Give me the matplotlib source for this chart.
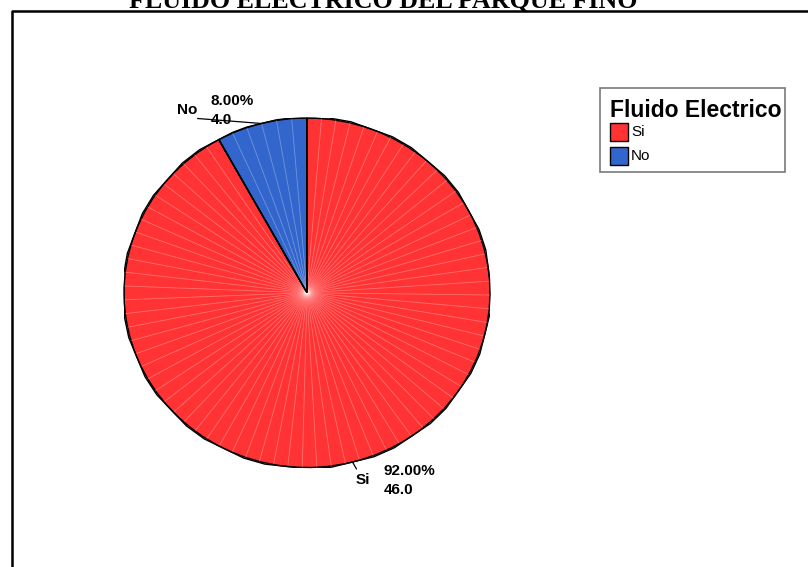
import matplotlib
matplotlib.use('Agg')
import matplotlib.pyplot as plt
from matplotlib.lines import Line2D
from matplotlib.patches import Rectangle
import numpy as np

# datos
categorias = ['Si', 'No']
frecuencias = [46.0, 4.0]
porcentajes = [92.00, 8.00]
colores = ['#FF3333', '#3366CC']
titulo = 'FLUIDO ELECTRICO DEL PARQUE FINO'
titulo_leyenda = 'Fluido Electrico'

W, H = 808, 567
fig = plt.figure(figsize=(W / 100, H / 100), dpi=100)


def fx(px):
    return px / W


def fy(py):
    return 1 - py / H


# marco del grafico (cortado a la derecha y abajo)
fig.add_artist(Line2D([fx(11.5), fx(11.5), 1.0], [0.0, fy(10.5), fy(10.5)],
                      transform=fig.transFigure, color='black', lw=1.8))

# titulo (parcialmente fuera de la imagen, como en el original)
fig.text(fx(383), fy(8), titulo, ha='center', va='baseline', fontsize=18.7,
         fontweight='bold', family='Liberation Serif')

# pastel
ax = fig.add_axes([fx(124), fy(467.5), (490 - 124) / W, (467.5 - 118) / H])
wedges, _ = ax.pie(frecuencias, colors=colores, startangle=90, counterclock=False,
                   wedgeprops=dict(edgecolor='black', linewidth=1.0, zorder=1))
ax.set_aspect('auto')
ax.set_xlim(-1, 1)
ax.set_ylim(-1, 1)
ax.axis('off')

# lineas radiales tenues como en el original
for w in wedges:
    t1, t2 = sorted([w.theta1, w.theta2])
    n = max(int((t2 - t1) / 4.5), 1)
    for a in np.linspace(t1, t2, n + 1)[1:-1]:
        r = np.deg2rad(a)
        ax.plot([0, np.cos(r)], [0, np.sin(r)], color='white', alpha=0.3,
                lw=0.6, zorder=1.5)
for w in wedges:
    ax.add_patch(plt.Polygon(w.get_path().vertices, closed=True, fill=False,
                             edgecolor='black', lw=1.0, zorder=2,
                             transform=w.get_transform()))

# etiquetas
fuente = dict(family='Liberation Sans', fontweight='bold', fontsize=11)
desplaz = {
    'No': dict(guia=(-64, 5), cat=(-64, 13), ha='right', num=(-51, 22), frec=(-51, 3)),
    'Si': dict(guia=(4, -7), cat=(10, -18), ha='center', num=(31, -9), frec=(31, -28)),
}
for w, cat, pct, frec in zip(wedges, categorias, porcentajes, frecuencias):
    ang = np.deg2rad((w.theta1 + w.theta2) / 2)
    xy = (np.cos(ang), np.sin(ang))
    d = desplaz[cat]
    ax.annotate('', xy=xy, xytext=d['guia'], textcoords='offset pixels',
                arrowprops=dict(arrowstyle='-', color='black', lw=0.9,
                                shrinkA=0, shrinkB=0), annotation_clip=False)
    ax.annotate(cat, xy=xy, xytext=d['cat'], textcoords='offset pixels',
                ha=d['ha'], va='center', annotation_clip=False, **fuente)
    ax.annotate(f'{pct:.2f}%', xy=xy, xytext=d['num'], textcoords='offset pixels',
                ha='left', va='center', annotation_clip=False, **fuente)
    ax.annotate(f'{frec:.1f}', xy=xy, xytext=d['frec'], textcoords='offset pixels',
                ha='left', va='center', annotation_clip=False, zorder=3, **fuente)

# leyenda (dibujada a mano para igualar el estilo SPSS)
fig.add_artist(Rectangle((fx(600), fy(172)), 185 / W, 84 / H, transform=fig.transFigure,
                         facecolor='white', edgecolor='#7a7a7a', lw=1.2))
fig.text(fx(610), fy(117), titulo_leyenda, ha='left', va='baseline',
         family='Liberation Sans', fontweight='bold', fontsize=16.5)
filas_y = [123, 147]
for cat, col, y0 in zip(categorias, colores, filas_y):
    fig.add_artist(Rectangle((fx(610), fy(y0 + 18)), 18 / W, 18 / H,
                             transform=fig.transFigure, facecolor=col,
                             edgecolor='black', lw=1.0))
    fig.text(fx(631), fy(y0 + 9), cat, ha='left', va='center',
             family='Liberation Sans', fontsize=11)

fig.savefig('out.png', dpi=100)
